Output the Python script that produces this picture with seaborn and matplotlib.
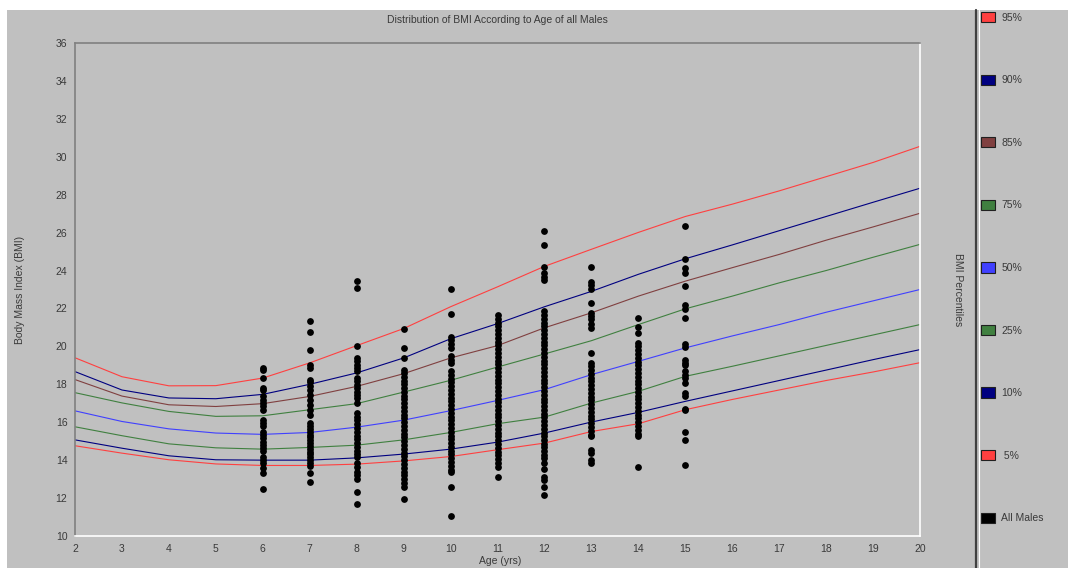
import numpy as np
import pandas as pd
import matplotlib
matplotlib.use('Agg')
import matplotlib.pyplot as plt
from matplotlib.patches import Patch, Rectangle
from matplotlib.lines import Line2D
import seaborn as sns

# Percentile curves, one value per year of age
ages = [2, 3, 4, 5, 6, 7, 8, 9, 10, 11, 12, 13, 14, 15, 16, 17, 18, 19, 20]
p95 = [19.4, 18.4, 17.92, 17.93, 18.33, 19.13, 20.04, 20.94, 22.09, 23.14, 24.22, 25.12, 26.01, 26.85, 27.5, 28.2, 28.95, 29.7, 30.55]
p90 = [18.67, 17.7, 17.28, 17.24, 17.47, 18.0, 18.6, 19.39, 20.4, 21.2, 22.09, 22.9, 23.8, 24.62, 25.35, 26.1, 26.85, 27.6, 28.34]
p85 = [18.25, 17.38, 16.92, 16.83, 16.98, 17.36, 17.89, 18.56, 19.39, 20.04, 20.98, 21.77, 22.65, 23.44, 24.15, 24.85, 25.6, 26.3, 27.02]
p75 = [17.56, 17.02, 16.57, 16.31, 16.34, 16.66, 16.98, 17.59, 18.21, 18.91, 19.6, 20.3, 21.15, 21.98, 22.65, 23.35, 24.0, 24.7, 25.38]
p50 = [16.6, 16.04, 15.65, 15.43, 15.36, 15.46, 15.74, 16.11, 16.61, 17.15, 17.72, 18.51, 19.21, 19.92, 20.55, 21.15, 21.8, 22.4, 23.0]
p25 = [15.76, 15.29, 14.86, 14.65, 14.58, 14.67, 14.79, 15.07, 15.46, 15.92, 16.27, 17.01, 17.63, 18.42, 18.95, 19.5, 20.05, 20.6, 21.15]
p10 = [15.07, 14.63, 14.23, 14.02, 14.0, 14.0, 14.12, 14.32, 14.58, 14.95, 15.43, 16.01, 16.52, 17.1, 17.65, 18.2, 18.75, 19.3, 19.83]
p05 = [14.76, 14.37, 14.02, 13.8, 13.72, 13.72, 13.79, 13.96, 14.19, 14.55, 14.9, 15.51, 15.92, 16.66, 17.2, 17.7, 18.2, 18.65, 19.14]

percentile_labels = ['95%', '90%', '85%', '75%', '50%', '25%', '10%', ' 5%']
percentile_colors = ['#FF4040', '#000080', '#804040', '#408040', '#4040FF', '#408040', '#000080', '#FF4040']

# Individual BMI readings of the males, by age
bmi_age6 = [18.86, 18.74, 18.33, 17.8, 17.68, 17.36, 17.19, 17.01, 16.83, 16.66, 16.13, 15.95, 15.78,
            15.51, 15.34, 15.16, 14.98, 14.81, 14.63, 14.46, 14.19, 14.02, 13.84, 13.58, 13.31, 12.5]
bmi_age7 = [21.36, 20.77, 19.8, 19.04, 18.86, 18.25, 18.1, 17.89, 17.72, 17.45, 17.19, 16.92, 16.66, 16.4,
            15.95, 15.8, 15.65, 15.5, 15.35, 15.2, 15.05, 14.9, 14.75, 14.6, 14.45, 14.3, 14.15, 14.0,
            13.85, 13.7, 13.31, 12.87]
bmi_age8 = [23.44, 23.09, 20.04, 19.39, 19.21, 19.04, 18.86, 18.68, 18.33, 18.15, 17.97, 17.8, 17.62,
            17.45, 17.28, 17.01, 16.48, 16.3, 16.1, 15.9, 15.7, 15.5, 15.3, 15.1, 14.9, 14.7, 14.5,
            14.35, 14.19, 13.84, 13.66, 13.4, 13.22, 13.01, 12.34, 11.69]
bmi_age9 = [20.92, 19.92, 19.39, 18.77, 18.6, 18.4, 18.2, 18.0, 17.8, 17.6, 17.4, 17.2, 17.0, 16.8,
            16.6, 16.4, 16.2, 16.0, 15.8, 15.6, 15.4, 15.2, 15.0, 14.8, 14.6, 14.4, 14.2, 14.0, 13.8,
            13.6, 13.4, 13.2, 13.0, 12.8, 12.6, 11.96]
bmi_age10 = [23.04, 21.72, 20.5, 20.33, 20.1, 19.92, 19.48, 19.3, 19.13, 18.68, 18.5, 18.3, 18.1, 17.9,
             17.7, 17.5, 17.3, 17.1, 16.9, 16.7, 16.5, 16.3, 16.1, 15.9, 15.7, 15.5, 15.3, 15.1, 14.9,
             14.7, 14.5, 14.3, 14.1, 13.9, 13.7, 13.5, 13.4, 12.61, 11.07]
bmi_age11 = [21.64, 21.45, 21.25, 21.05, 20.85, 20.65, 20.45, 20.25, 20.05, 19.85, 19.65, 19.45, 19.25,
             19.05, 18.85, 18.65, 18.45, 18.25, 18.05, 17.85, 17.65, 17.45, 17.25, 17.05, 16.85, 16.65,
             16.45, 16.25, 16.05, 15.85, 15.65, 15.45, 15.25, 15.05, 14.85, 14.65, 14.45, 14.25, 14.05,
             13.85, 13.66, 13.13]
bmi_age12 = [26.08, 25.34, 24.18, 23.88, 23.67, 23.48, 21.86, 21.65, 21.45, 21.25, 21.05, 20.85, 20.65,
             20.45, 20.25, 20.05, 19.85, 19.65, 19.45, 19.25, 19.05, 18.85, 18.65, 18.45, 18.25, 18.05,
             17.85, 17.65, 17.45, 17.25, 17.05, 16.85, 16.65, 16.45, 16.25, 16.05, 15.85, 15.65, 15.45,
             15.25, 15.05, 14.85, 14.72, 14.46, 14.28, 14.1, 13.84, 13.52, 13.13, 12.96, 12.61, 12.15]
bmi_age13 = [24.18, 23.41, 23.23, 23.05, 22.3, 21.77, 21.59, 21.42, 21.2, 20.98, 19.66, 19.13, 18.95,
             18.77, 18.55, 18.35, 18.15, 17.95, 17.75, 17.55, 17.35, 17.15, 16.95, 16.75, 16.55, 16.35,
             16.15, 15.95, 15.75, 15.55, 15.35, 15.25, 14.55, 14.37, 14.02, 13.84]
bmi_age14 = [21.5, 21.03, 20.68, 20.19, 20.0, 19.8, 19.6, 19.4, 19.2, 19.0, 18.8, 18.6, 18.4, 18.2, 18.0,
             17.8, 17.6, 17.4, 17.2, 17.0, 16.8, 16.6, 16.4, 16.2, 16.0, 15.8, 15.6, 15.4, 15.25, 13.66]
bmi_age15 = [26.35, 24.62, 24.15, 23.85, 23.18, 22.16, 21.98, 21.49, 20.15, 19.97, 19.3, 19.13, 19.0,
             18.68, 18.51, 18.33, 18.07, 17.54, 17.36, 16.71, 16.63, 15.51, 15.07, 13.75]

# build long-form tables
curves = pd.DataFrame({'Age': ages * 8,
                       'BMI': p95 + p90 + p85 + p75 + p50 + p25 + p10 + p05,
                       'Percentile': [lab for lab in percentile_labels for _ in ages]})

point_lists = {6: bmi_age6, 7: bmi_age7, 8: bmi_age8, 9: bmi_age9, 10: bmi_age10,
               11: bmi_age11, 12: bmi_age12, 13: bmi_age13, 14: bmi_age14, 15: bmi_age15}
males = pd.DataFrame({'Age': [a for a, v in point_lists.items() for _ in v],
                      'BMI': [b for v in point_lists.values() for b in v]})

bg = '#C0C0C0'
txt = '#3a3a3a'
sns.set_style('white')
plt.rcParams['font.family'] = ['Liberation Sans', 'DejaVu Sans']

fig = plt.figure(figsize=(10.68, 5.68), dpi=100, facecolor='white')
W, H = 1068, 568
# gray panel behind everything (white strip at top and left)
fig.add_artist(Rectangle((7 / W, 0), 1 - 7 / W, (H - 10) / H, transform=fig.transFigure,
                         facecolor=bg, edgecolor='none', zorder=0))

ax = fig.add_axes([75 / W, 32 / H, 845 / W, 493 / H])
ax.set_facecolor(bg)

sns.lineplot(data=curves, x='Age', y='BMI', hue='Percentile', palette=dict(zip(percentile_labels, percentile_colors)),
             linewidth=0.8, legend=False, ax=ax, zorder=2)
sns.scatterplot(data=males, x='Age', y='BMI', color='black', s=24, linewidth=0, ax=ax, zorder=3)

ax.set_xlim(2, 20)
ax.set_ylim(10, 36)
ax.set_xticks(range(2, 21))
ax.set_yticks(range(10, 37, 2))
ax.tick_params(axis='both', labelsize=7.5, colors='#606060', labelcolor=txt, length=3, width=0.8,
               direction='out', pad=2.5)
for side, col in [('left', '#808080'), ('top', '#808080'), ('right', 'white'), ('bottom', 'white')]:
    ax.spines[side].set_color(col)
    ax.spines[side].set_linewidth(1.2)
ax.set_xlabel('')
ax.set_ylabel('')

fig.text(497 / W, 1 - 20 / H, 'Distribution of BMI According to Age of all Males', ha='center', va='center',
         fontsize=7.5, color=txt)
fig.text(500 / W, 1 - 561 / H, 'Age (yrs)', ha='center', va='center', fontsize=7.5, color=txt)
fig.text(20 / W, 1 - 290 / H, 'Body Mass Index (BMI)', ha='center', va='center', rotation=90,
         fontsize=7.5, color=txt)
fig.text(958 / W, 1 - 290 / H, 'BMI Percentiles', ha='center', va='center', rotation=270,
         fontsize=7.5, color=txt)

# divider between plot and legend panel
fig.add_artist(Line2D([976 / W, 976 / W], [0, (H - 10) / H], transform=fig.transFigure,
                      color='#404040', linewidth=1.6))
fig.add_artist(Line2D([978.5 / W, 978.5 / W], [0, (H - 10) / H], transform=fig.transFigure,
                      color='white', linewidth=0.8))

handles = [Patch(facecolor=c, edgecolor='#202020', linewidth=0.8) for c in percentile_colors]
handles.append(Patch(facecolor='black', edgecolor='#202020', linewidth=0.8))
fig.legend(handles, percentile_labels + ['All Males'], loc='upper left',
           bbox_to_anchor=(981 / W, 1 - 12 / H), frameon=False, fontsize=7.5, labelcolor=txt,
           handlelength=1.35, handleheight=1.15, handletextpad=0.6, labelspacing=4.98,
           borderaxespad=0, borderpad=0)

fig.savefig('out.png', dpi=100, facecolor='white')
